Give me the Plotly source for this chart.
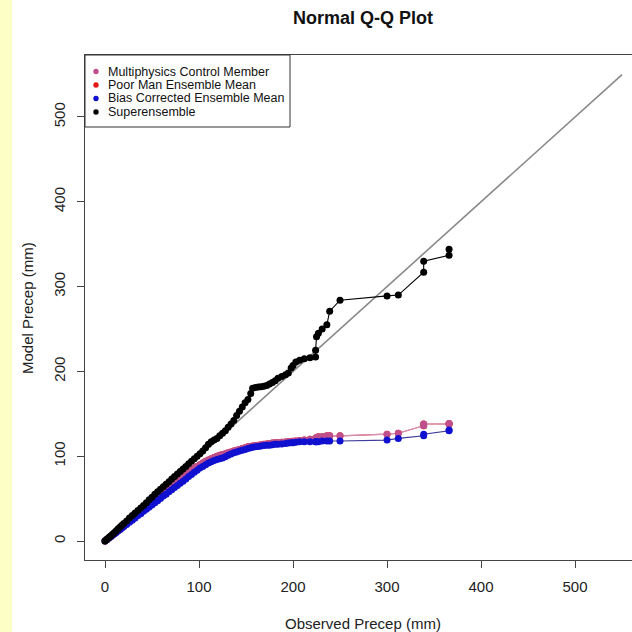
import plotly.graph_objects as go

# ---------------- data ----------------
obs = [0, 2, 4, 6, 8, 10, 12, 14, 16, 18, 20, 23, 26, 29, 32, 35, 38, 41, 44, 47,
       50, 53, 56, 59, 62, 65, 68, 71, 74, 77, 80, 83, 86, 89, 92, 95, 98, 101, 104, 107,
       110, 113, 116, 119, 122, 125, 128, 131, 134, 137, 140, 143, 146, 149, 152, 155, 157,
       160, 163, 166, 169, 172, 175, 178, 181, 184, 188, 192, 195, 198, 200, 203, 207, 212,
       218, 224, 224, 225, 227, 231, 236, 239, 250, 300, 312, 339, 339, 366, 366]

multiphysics = [0, 1.8, 3.5, 5.3, 7, 8.8, 10.5, 12.3, 14, 15.8, 17.6, 20.2, 22.9, 25.5, 28.2, 30.8, 33.4, 36, 38.7, 41.3,
                44, 46.6, 49.3, 52, 55, 57.5, 60, 63, 66, 69, 72, 75, 78, 81, 83.5, 86, 88, 90, 92, 94,
                95.5, 97, 98.5, 100, 101, 102, 103, 104, 105, 106, 107, 108, 109, 110, 111, 111.5, 112,
                112.5, 113, 113.5, 114, 114.5, 115, 115.5, 116, 116.2, 116.5, 116.8, 117, 117.2, 117.5, 118, 118.5, 119,
                120, 121, 121, 122, 123, 123, 124, 124, 124, 126, 127, 136, 138, 138, 138.5]

poor_man = [0, 1.8, 3.5, 5.3, 7, 8.8, 10.5, 12.3, 14, 15.8, 17.6, 20.2, 22.9, 25.5, 28.2, 30.8, 33.4, 36, 38.7, 41.3,
            44, 46.6, 49.3, 52, 55, 57.5, 60, 63, 66, 69, 72, 75, 78, 81, 83.5, 86, 88, 90, 92, 94,
            95.5, 97, 98.5, 100, 101, 102, 103, 104, 105, 106, 107, 108, 109, 110, 111, 111.5, 112,
            112.5, 113, 113.5, 114, 114.5, 115, 115.5, 116, 116.2, 116.5, 116.8, 117, 117.2, 117.5, 118, 118.5, 119,
            120, 121, 121, 122, 123, 123, 124, 124, 124, 126, 127, 136, 138, 138, 138.5]

bias_corrected = [0, 1.7, 3.4, 5, 6.8, 8.5, 10, 12, 13.6, 15.3, 17, 19.5, 22, 24.5, 27, 30, 32, 35, 37.5, 40,
                  42.5, 45, 47.5, 50, 53, 55, 58, 60.5, 63, 65.5, 68, 70.5, 73, 76, 78.5, 81, 83.5, 86, 88, 90,
                  92, 93.5, 95, 96, 97, 98, 99.5, 101, 102.5, 104, 105, 106, 107, 108, 109, 110, 110.5,
                  111, 111.5, 112, 112.5, 113, 113, 113.5, 114, 114, 114.5, 115, 115.5, 116, 116, 116.5, 117, 117,
                  117, 117, 117, 117, 117, 118, 118, 118, 118, 119, 121, 124, 126, 130, 131]

superensemble = [0, 2, 4, 6, 8, 10, 12, 14.5, 16.5, 18.5, 20.5, 23.5, 27, 30, 33, 36, 39, 42, 45, 48.5,
                 51.5, 55, 58, 61, 64, 67, 70, 73, 76, 79, 82, 85, 88, 91, 94, 97, 100, 103, 106, 110,
                 114, 117, 119, 121, 124, 127, 130, 134, 138, 142, 148, 153, 158, 163, 167, 174, 180,
                 181, 181.5, 182, 182.5, 183.5, 185, 187, 189, 192, 194, 196, 198, 204, 207, 211, 213, 215,
                 216, 217, 225, 241, 245, 250, 255, 271, 284, 289, 290, 317, 330, 337, 344]

ref_x = [0, 550]
ref_y = [0, 550]

series_names = ["Multiphysics Control Member", "Poor Man Ensemble Mean",
                "Bias Corrected Ensemble Mean", "Superensemble"]
series_colors = ["#c0508c", "#e01818", "#1010d0", "#000000"]
line_colors = ["#d890b4", "#e05050", "#3a3a9a", "#000000"]

x_ticks = [0, 100, 200, 300, 400, 500]
y_ticks = [0, 100, 200, 300, 400, 500]

# ---------------- figure ----------------
FONT = "Liberation Sans, Arial, sans-serif"
fig = go.Figure()

fig.add_trace(go.Scatter(x=ref_x, y=ref_y, mode="lines",
                         line=dict(color="#8a8a8a", width=1.6),
                         hoverinfo="skip", showlegend=False))

values = {"Poor Man Ensemble Mean": poor_man,
          "Multiphysics Control Member": multiphysics,
          "Bias Corrected Ensemble Mean": bias_corrected,
          "Superensemble": superensemble}
draw_order = ["Poor Man Ensemble Mean", "Multiphysics Control Member",
              "Bias Corrected Ensemble Mean", "Superensemble"]
for name in draw_order:
    i = series_names.index(name)
    fig.add_trace(go.Scatter(
        x=obs, y=values[name], mode="lines+markers", name=name,
        line=dict(color=line_colors[i], width=1.1),
        marker=dict(color=series_colors[i], size=7, line=dict(width=0)),
        showlegend=False))

# plot region geometry (pixels)
L, R, T, B = 85, 0, 55, 72
W, H = 632, 632
pw, ph = W - L - R, H - T - B

def px_x(px):
    return (px - L) / pw

def px_y(py):
    return (H - B - py) / ph

shapes = []
# pale yellow strip on the left edge
shapes.append(dict(type="rect", xref="paper", yref="paper",
                   x0=px_x(0), x1=px_x(12), y0=px_y(640), y1=px_y(-10),
                   fillcolor="#fdfdc6", line=dict(width=0), layer="below"))
# legend box
shapes.append(dict(type="rect", xref="paper", yref="paper",
                   x0=px_x(85), x1=px_x(290), y0=px_y(127), y1=px_y(55),
                   fillcolor="white", line=dict(color="#333333", width=1)))
annotations = []
legend_y = [71.5, 85, 98.5, 112]
for i, name in enumerate(series_names):
    cy = px_y(legend_y[i])
    shapes.append(dict(type="circle", xref="paper", yref="paper",
                       xsizemode="pixel", ysizemode="pixel",
                       xanchor=px_x(96), yanchor=cy,
                       x0=-2.7, x1=2.7, y0=-2.7, y1=2.7,
                       fillcolor=series_colors[i], line=dict(width=0)))
    annotations.append(dict(text=name, xref="paper", yref="paper",
                            x=px_x(106), y=cy, xanchor="left", yanchor="middle",
                            showarrow=False, font=dict(family=FONT, size=12.5, color="#111111")))

annotations.append(dict(text="<b>Normal Q-Q Plot</b>", xref="paper", yref="paper",
                        x=px_x(363), y=px_y(18), xanchor="center", yanchor="middle",
                        showarrow=False, font=dict(family=FONT, size=18, color="#111111")))
annotations.append(dict(text="Observed Precep (mm)", xref="paper", yref="paper",
                        x=px_x(363), y=px_y(623), xanchor="center", yanchor="middle",
                        showarrow=False, font=dict(family=FONT, size=15, color="#222222")))
annotations.append(dict(text="Model Precep (mm)", xref="paper", yref="paper",
                        x=px_x(27), y=px_y(308), xanchor="center", yanchor="middle",
                        textangle=-90, showarrow=False,
                        font=dict(family=FONT, size=15, color="#222222")))

fig.update_layout(
    width=W, height=H,
    margin=dict(l=L, r=R, t=T, b=B, pad=0),
    paper_bgcolor="white", plot_bgcolor="white",
    showlegend=False,
    shapes=shapes, annotations=annotations,
    font=dict(family=FONT, size=15, color="#222222"),
)
fig.update_xaxes(range=[-21.3, 560.6], tickvals=x_ticks, ticktext=[str(v) for v in x_ticks],
                 showgrid=False, zeroline=False, showline=True, mirror=True,
                 linecolor="#444444", linewidth=1, ticks="outside", ticklen=7,
                 tickcolor="#444444", tickfont=dict(family=FONT, size=15, color="#222222"),
                 ticklabelstandoff=6)
fig.update_yaxes(range=[-22.4, 573.1], tickvals=y_ticks, ticktext=[str(v) for v in y_ticks],
                 showgrid=False, zeroline=False, showline=True, mirror=False,
                 linecolor="#444444", linewidth=1, ticks="outside", ticklen=7,
                 tickcolor="#444444", tickangle=-90,
                 tickfont=dict(family=FONT, size=15, color="#222222"),
                 ticklabelstandoff=6)

fig.write_html("out.html")
